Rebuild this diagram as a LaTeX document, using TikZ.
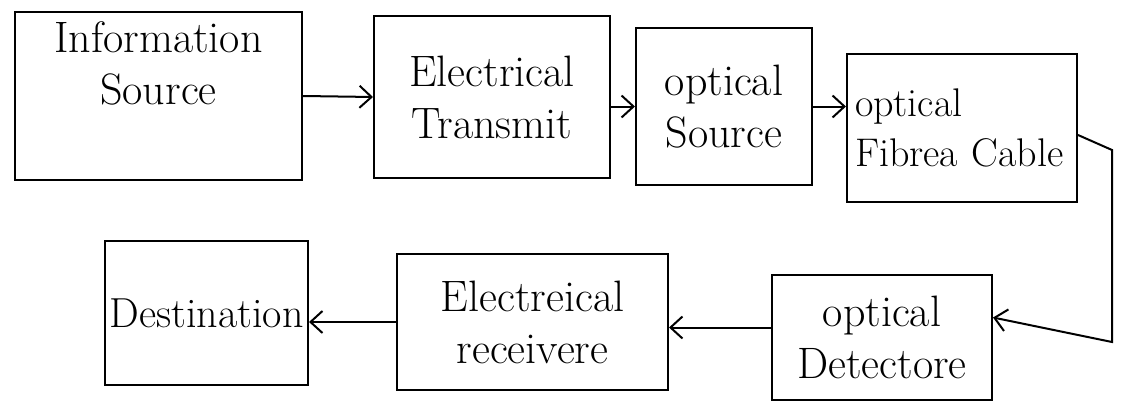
\documentclass[tikz,border=0pt]{standalone}
\usetikzlibrary{arrows.meta}
\begin{document}
\begin{tikzpicture}[x=1pt,y=-1pt,
  blk/.style={draw=black, line width=2pt, minimum width=#1, inner sep=0pt,
    font=\fontsize{44}{52}\selectfont, align=center},
  arr/.style={draw=black, line width=2pt, -{Straight Barb[length=12pt,width=22pt]}}]
\useasboundingbox (0,0) rectangle (1122,412);
\node[blk=287pt, minimum height=168pt] (info) at (158.5,96) {Information\\Source\\[14pt]};
\node[blk=236pt, minimum height=162pt] (etx) at (492,97) {Electrical\\Transmit};
\node[blk=176pt, minimum height=157pt] (osrc) at (724,106.5) {optical\\Source};
\node[blk=230pt, minimum height=147pt, align=left, text width=214pt,
  font=\fontsize{40}{50}\selectfont] (fibre) at (962,128) {optical\\Fibrea Cable};
\node[blk=220pt, minimum height=125pt] (det) at (882,337.5) {optical\\Detectore};
\node[blk=271pt, minimum height=136pt] (rcv) at (532.5,322) {Electreical\\receivere};
\node[blk=203pt, minimum height=144pt, font=\fontsize{42}{50}\selectfont] (dest) at (206.5,313) {Destination};
\coordinate (c1) at (1112,150);
\coordinate (c2) at (1112,342);
\draw[arr] (info.east) -- (etx.west);
\draw[arr] (etx.east |- osrc.west) -- (osrc.west);
\draw[arr] (osrc.east) -- (osrc.east -| fibre.west);
\draw[arr] ([yshift=-7pt]fibre.east) -- (c1) -- (c2) -- ([yshift=20pt]det.east);
\draw[arr] ([yshift=10pt]det.west) -- ([yshift=10pt]det.west -| rcv.east);
\draw[arr] (rcv.west) -- (rcv.west -| dest.east);
\end{tikzpicture}
\end{document}
